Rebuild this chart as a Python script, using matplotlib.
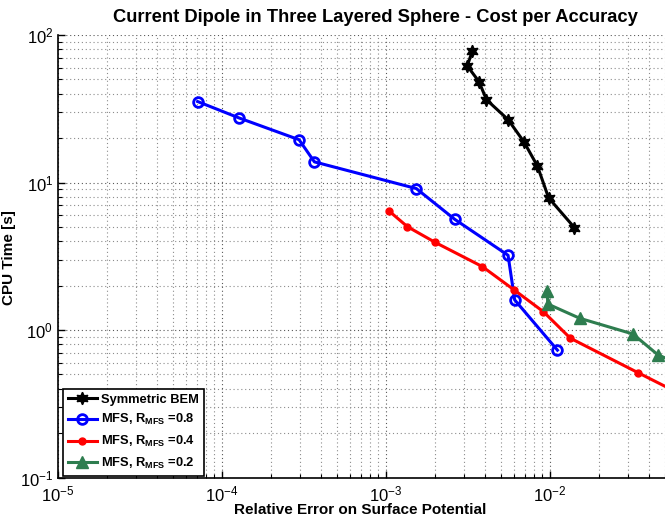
import numpy as np
import matplotlib
matplotlib.use("Agg")
import matplotlib.pyplot as plt
from matplotlib.ticker import LogLocator, NullFormatter, FixedLocator

plt.rcParams['font.family'] = ['Liberation Sans', 'DejaVu Sans']
plt.rcParams['mathtext.fontset'] = 'custom'
plt.rcParams['mathtext.rm'] = 'Liberation Sans'
plt.rcParams['mathtext.bf'] = 'Liberation Sans:bold'
plt.rcParams['mathtext.it'] = 'Liberation Sans:italic'

# Data
bem_err = [3.36e-3, 3.13e-3, 3.69e-3, 4.1e-3, 5.55e-3, 6.95e-3, 8.39e-3, 9.8e-3, 1.41e-2]
bem_time = [78, 61.7, 48.3, 36.4, 26.7, 18.8, 12.9, 7.88, 4.94]

mfs08_err = [7.1e-5, 1.27e-4, 2.95e-4, 3.66e-4, 1.53e-3, 2.63e-3, 5.55e-3, 6.09e-3, 1.11e-2]
mfs08_time = [35.4, 27.4, 19.5, 13.8, 9.1, 5.62, 3.21, 1.60, 0.73]

mfs04_err = [1.05e-3, 1.35e-3, 2.0e-3, 3.87e-3, 6.04e-3, 9.12e-3, 1.33e-2, 3.46e-2, 8.0e-2]
mfs04_time = [6.37, 5.02, 3.92, 2.69, 1.87, 1.33, 0.88, 0.512, 0.32]

mfs02_err = [9.6e-3, 9.7e-3, 1.52e-2, 3.2e-2, 4.54e-2, 7.0e-2]
mfs02_time = [1.85, 1.50, 1.20, 0.94, 0.68, 0.55]

x_major = [1e-5, 1e-4, 1e-3, 1e-2]
y_major = [1e-1, 1e0, 1e1, 1e2]

labels = ['Symmetric BEM',
          r'MFS, R$_{\mathbf{MFS}}$ =0.8',
          r'MFS, R$_{\mathbf{MFS}}$ =0.4',
          r'MFS, R$_{\mathbf{MFS}}$ =0.2']

W, H = 665, 518
fig = plt.figure(figsize=(W/100, H/100), dpi=100)
x0, y_top, y_bot = 58, 35, 477.5
dec = 164
ax = fig.add_axes([x0/W, 1 - y_bot/H, 4*dec/W, (y_bot - y_top)/H])
axw = 4*dec
axh = y_bot - y_top

green = '#2e7d4f'
ax.plot(bem_err, bem_time, color='black', lw=2.2, marker=(6, 1, 0), ms=9,
        mfc='black', mec='black', label=labels[0], zorder=5)
ax.plot(mfs08_err, mfs08_time, color='#0000ff', lw=2.2, marker='o', ms=7,
        mfc='none', mec='#0000ff', mew=2, label=labels[1], zorder=5)
ax.plot(mfs04_err, mfs04_time, color='#ff0000', lw=2.2, marker='o', ms=5,
        mfc='#ff0000', mec='#ff0000', label=labels[2], zorder=5)
ax.plot(mfs02_err, mfs02_time, color=green, lw=2.2, marker='^', ms=9,
        mfc=green, mec=green, label=labels[3], zorder=5)

ax.set_xscale('log')
ax.set_yscale('log')
ax.set_xlim(1e-5, 1e-1)
ax.set_ylim(1e-1, 1e2)

ax.xaxis.set_major_locator(FixedLocator(x_major))
ax.yaxis.set_major_locator(FixedLocator(y_major))
ax.xaxis.set_minor_locator(LogLocator(base=10, subs=np.arange(2, 10), numticks=20))
ax.yaxis.set_minor_locator(LogLocator(base=10, subs=np.arange(2, 10), numticks=20))
ax.xaxis.set_minor_formatter(NullFormatter())
ax.yaxis.set_minor_formatter(NullFormatter())

ax.grid(True, which='major', color='0.35', linestyle=(0, (1, 2.5)), lw=0.8)
ax.grid(True, which='minor', color='0.55', linestyle=(0, (1, 2.5)), lw=0.8)
ax.set_axisbelow(True)

ax.spines['top'].set_visible(False)
ax.spines['right'].set_visible(False)
ax.spines['left'].set_linewidth(1.2)
ax.spines['bottom'].set_linewidth(1.2)
ax.tick_params(which='both', direction='in', top=False, right=False, labelsize=12)
ax.tick_params(which='major', length=5, width=1)
ax.tick_params(axis='x', which='major', pad=5)
ax.tick_params(which='minor', length=3, width=0.8)

ax.set_xlabel('Relative Error on Surface Potential', fontsize=11, fontweight='bold')
ax.set_ylabel('CPU Time [s]', fontsize=11, fontweight='bold')
ax.xaxis.set_label_coords((360.5 - x0) / axw, (y_bot - 503.5) / axh)
ax.yaxis.set_label_coords((16 - x0) / axw, 0.497)
fig.text(375 / W, 1 - 17/H,
         'Current Dipole in Three Layered Sphere - Cost per Accuracy',
         ha='center', va='center', fontsize=13.2, fontweight='bold')

leg = ax.legend(loc='lower left', bbox_to_anchor=(5/axw, 2/axh), borderaxespad=0,
                prop={'weight': 'bold', 'size': 9.3}, frameon=True, fancybox=False,
                edgecolor='black', framealpha=1, handlelength=2.3, handletextpad=0.3,
                labelspacing=0.52, borderpad=0.35)
leg.get_frame().set_linewidth(1.2)

fig.savefig('out.png', dpi=100)
